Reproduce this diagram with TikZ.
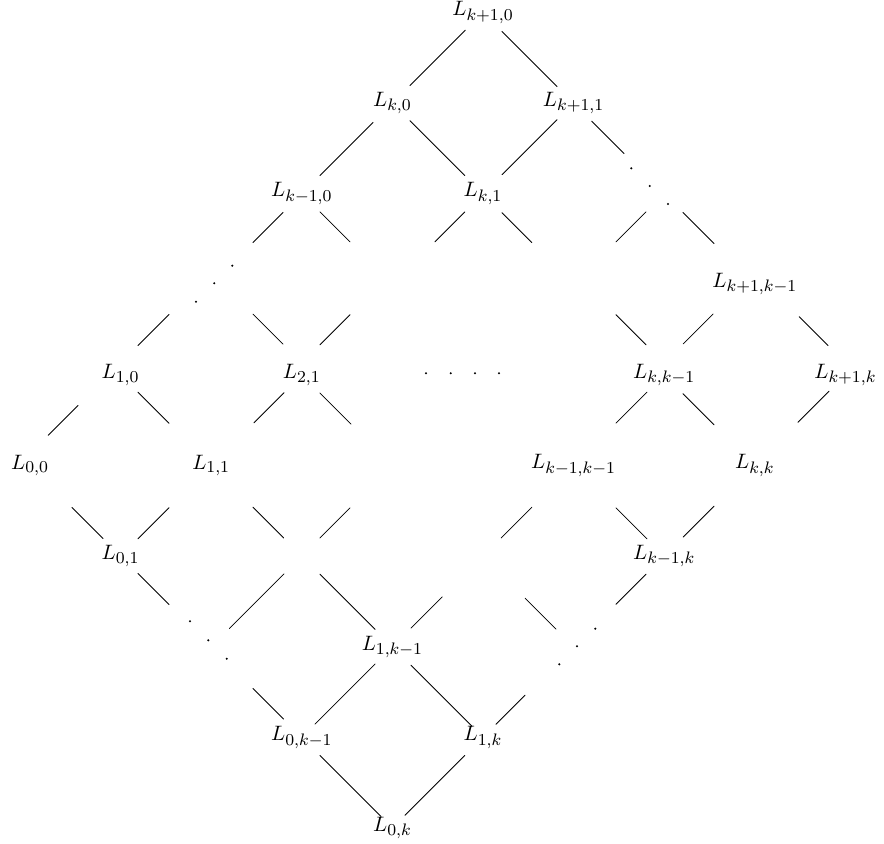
\documentclass[tikz,border=0pt]{standalone}
\usetikzlibrary{calc}
\DeclareMathSizes{10}{10}{8}{6}
\newcommand\lseg[5][(0,0)]{\draw[edge] ($(#2)!#4!(#3)+#1$) -- ($(#2)!#5!(#3)+#1$);}
\begin{document}
\begin{tikzpicture}[x=0.48pt,y=-0.48pt,
  lbl/.style={inner sep=0pt,anchor=center},
  edge/.style={line width=0.4pt,line cap=round},
  dotmark/.style={fill=black}]
\useasboundingbox (0,0) rectangle (884,844);
% labelled cells
\node[lbl] (Lk10)   at (483,12.5)    {$L_{k+1,0}$};
\node[lbl] (Lk0)    at (392.4,103.1) {$L_{k,0}$};
\node[lbl] (Lk11)   at (573.6,103.1) {$L_{k+1,1}$};
\node[lbl] (Lkm10)  at (301.8,193.7) {$L_{k-1,0}$};
\node[lbl] (Lk1)    at (483,193.7)   {$L_{k,1}$};
\node[lbl] (Lk1km1) at (754.8,284.3) {$L_{k+1,k-1}$};
\node[lbl] (L10)    at (120.6,374.9) {$L_{1,0}$};
\node[lbl] (L21)    at (301.8,374.9) {$L_{2,1}$};
\node[lbl] (Lkkm1)  at (664.2,374.9) {$L_{k,k-1}$};
\node[lbl] (Lk1k)   at (845.4,374.9) {$L_{k+1,k}$};
\node[lbl] (L00)    at (30,465.5)    {$L_{0,0}$};
\node[lbl] (L11)    at (211.2,465.5) {$L_{1,1}$};
\node[lbl] (Lkm1km1) at (573.6,465.5) {$L_{k-1,k-1}$};
\node[lbl] (Lkk)    at (754.8,465.5) {$L_{k,k}$};
\node[lbl] (L01)    at (120.6,556.1) {$L_{0,1}$};
\node[lbl] (Lkm1k)  at (664.2,556.1) {$L_{k-1,k}$};
\node[lbl] (L1km1)  at (392.4,646.7) {$L_{1,k-1}$};
\node[lbl] (L0km1)  at (301.8,737.3) {$L_{0,k-1}$};
\node[lbl] (L1k)    at (483,737.3)   {$L_{1,k}$};
\node[lbl] (L0k)    at (392.4,827.9) {$L_{0,k}$};
% dotted and empty cells
\coordinate (D27) at (664.2,193.7);
\coordinate (D32) at (211.2,284.3);
\coordinate (E34) at (392.4,284.3);
\coordinate (E36) at (573.6,284.3);
\coordinate (D45) at (483,374.9);
\coordinate (E54) at (392.4,465.5);
\coordinate (E63) at (301.8,556.1);
\coordinate (E65) at (483,556.1);
\coordinate (D72) at (211.2,646.7);
\coordinate (D76) at (573.6,646.7);
% dots
\foreach \p in {(631.3,168.3),(649.7,186),(668,204),
                (232.3,265.7),(214.3,283.3),(196,301.7),
                (426,373.3),(450.7,373.3),(475,373.3),(499,373.3),
                (190,621.3),(208.3,640.3),(226.7,658.7),
                (595.3,628.7),(577,646.3),(559.3,664.3)}
  \fill[dotmark] \p circle[radius=0.55pt];
% connectors
\lseg{Lk10}{Lk0}{0.195}{0.806}
\lseg{Lk10}{Lk11}{0.21}{0.817}
\lseg{Lk0}{Lkm10}{0.214}{0.8}
\lseg{Lk0}{Lk1}{0.194}{0.8}
\lseg{Lk11}{Lk1}{0.183}{0.79}
\lseg{Lk11}{D27}{0.2}{0.556}
\lseg{Lkm10}{D32}{0.207}{0.539}
\lseg{Lkm10}{E34}{0.2}{0.532}
\lseg{Lk1}{E34}{0.2}{0.53}
\lseg{Lk1}{E36}{0.21}{0.54}
\lseg{D27}{E36}{0.2}{0.532}
\lseg{D27}{Lk1km1}{0.207}{0.55}
\lseg[(0,-12)]{D32}{L10}{0.466}{0.808}
\lseg[(0,-12)]{D32}{L21}{0.461}{0.792}
\lseg[(0,-12)]{E34}{L21}{0.468}{0.8}
\lseg[(0,-12)]{E36}{Lkkm1}{0.468}{0.8}
\lseg[(0,-12)]{Lk1km1}{Lkkm1}{0.46}{0.79}
\lseg[(0,-12)]{Lk1km1}{Lk1k}{0.49}{0.81}
\lseg[(0,-12)]{L10}{L00}{0.47}{0.8}
\lseg{L10}{L11}{0.19}{0.534}
\lseg{L21}{L11}{0.196}{0.528}
\lseg{L21}{E54}{0.2}{0.543}
\lseg{Lkkm1}{Lkm1km1}{0.19}{0.532}
\lseg{Lkkm1}{Lkk}{0.207}{0.55}
\lseg{Lk1k}{Lkk}{0.18}{0.523}
\lseg{L00}{L01}{0.464}{0.806}
\lseg{L11}{L01}{0.466}{0.808}
\lseg{L11}{E63}{0.461}{0.8}
\lseg{E54}{E63}{0.468}{0.8}
\lseg{Lkm1km1}{E65}{0.46}{0.8}
\lseg{Lkm1km1}{Lkm1k}{0.468}{0.81}
\lseg{Lkk}{Lkm1k}{0.45}{0.79}
\lseg{L01}{D72}{0.19}{0.534}
\lseg{E63}{D72}{0.196}{0.8}
\lseg{E63}{L1km1}{0.2}{0.81}
\lseg{E65}{L1km1}{0.45}{0.795}
\lseg{E65}{D76}{0.464}{0.806}
\lseg{Lkm1k}{D76}{0.2}{0.532}
\lseg{D72}{L0km1}{0.461}{0.8}
\lseg{L1km1}{L0km1}{0.19}{0.854}
\lseg{L1km1}{L1k}{0.205}{0.879}
\lseg{D76}{L1k}{0.536}{0.857}
\lseg{L0km1}{L0k}{0.2}{0.874}
\lseg{L1k}{L0k}{0.2}{0.861}
\end{tikzpicture}
\end{document}
